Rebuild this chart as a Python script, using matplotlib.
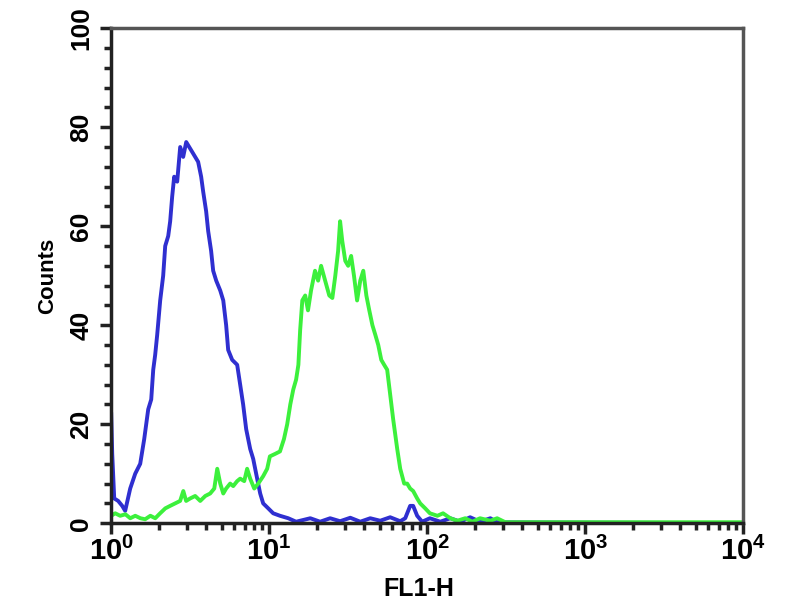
import matplotlib.pyplot as plt
from matplotlib.ticker import LogLocator, MultipleLocator, NullFormatter

# Histograma azul (control) - FL1-H vs Counts
blue_x = [1.0, 1.015, 1.045, 1.107, 1.174, 1.226, 1.319, 1.419, 1.526, 1.618,
          1.715, 1.792, 1.845, 1.898, 1.954, 2.042, 2.133, 2.197, 2.295, 2.362,
          2.432, 2.504, 2.616, 2.733, 2.855, 2.984, 3.117, 3.256, 3.40, 3.55,
          3.71, 3.82, 3.99, 4.11, 4.29, 4.42, 4.62, 4.90, 5.12, 5.34,
          5.50, 5.83, 6.27, 6.55, 6.84, 7.15, 7.58, 7.92, 8.39, 8.77,
          9.16, 9.86, 10.6, 11.7, 13.2, 14.8, 15.7, 18.2, 21.0, 24.3,
          28.1, 32.6, 37.7, 43.6, 50.4, 58.3, 67.5, 72.6, 78.0, 81.5,
          86.4, 92.9, 104, 121, 140, 162, 187, 216, 251, 277, 10000]
blue_y = [22, 14, 5, 4.5, 3.5, 2.5, 7, 10, 12, 17,
          23, 25, 31, 34, 38, 45, 50, 56, 58, 61,
          66, 70, 69, 76, 74, 77, 76, 75, 74, 73,
          70, 67, 63, 59, 55, 51, 49, 47, 45, 40,
          35, 33, 32, 28, 24, 19, 15, 13, 9, 6,
          4, 3, 2, 1.5, 1, 0.3, 0.5, 1, 0.3, 1,
          0.4, 1.1, 0.3, 1, 0.5, 1.2, 0.4, 1, 3.5, 3.5,
          1.5, 0.3, 1, 0.3, 1, 0.3, 1.2, 0.3, 1, 0.2, 0]

# Histograma verde (muestra)
green_x = [1.0, 1.06, 1.14, 1.23, 1.32, 1.42, 1.53, 1.64, 1.77, 1.90,
           2.04, 2.20, 2.36, 2.54, 2.73, 2.86, 2.98, 3.16, 3.40, 3.66,
           3.94, 4.23, 4.49, 4.69, 4.90, 5.12, 5.34, 5.66, 5.92, 6.27,
           6.55, 6.95, 7.25, 7.58, 8.04, 8.52, 9.16, 9.71, 10.1, 10.9,
           11.7, 12.4, 13.0, 13.6, 14.2, 14.8, 15.3, 15.7, 16.2, 16.9,
           17.6, 18.4, 19.5, 20.4, 21.3, 22.6, 24.0, 25.1, 26.2, 27.3,
           28.1, 29.0, 30.3, 31.6, 33.0, 34.4, 36.0, 37.7, 39.4, 41.2,
           43.0, 45.0, 47.0, 49.0, 51.2, 53.4, 55.8, 58.3, 60.9, 64.6,
           67.5, 71.5, 74.7, 78.0, 81.5, 86.4, 90.3, 97.1, 104, 116,
           126, 140, 155, 174, 193, 216, 251, 277, 312, 10000]
green_y = [1.5, 2, 1.5, 1.8, 1, 1.5, 1, 0.8, 1.5, 1,
           2, 3, 3.5, 4, 4.5, 6.5, 4.5, 5, 5.5, 4.5,
           5.5, 6, 7, 11, 8, 6, 7, 8, 7.5, 8.5,
           9, 8.5, 11, 9, 7, 8, 9.5, 11, 13.5, 14,
           14.5, 17, 20, 24, 27, 29, 32, 39, 45, 46,
           43, 47, 51, 49, 52, 49, 46, 45.5, 50, 55,
           61, 57, 53, 52, 54, 50, 45, 49, 51, 46,
           43, 40, 38, 36, 33, 32, 31, 26, 21, 15,
           11, 8, 8, 7, 6.5, 5, 4, 3, 2, 1.5,
           2, 1, 0.5, 1, 0.3, 1, 0.5, 1, 0.2, 0.2]

x_ticks = [1, 10, 100, 1000, 10000]
x_ticklabels = [r'$\mathregular{10^{0}}$', r'$\mathregular{10^{1}}$',
                r'$\mathregular{10^{2}}$', r'$\mathregular{10^{3}}$',
                r'$\mathregular{10^{4}}$']

plt.rcParams['font.family'] = ['Liberation Sans', 'DejaVu Sans']

fig = plt.figure(figsize=(8, 6), dpi=100)
ax = fig.add_axes([0.139, 0.128, 0.79, 0.825])

ax.plot(blue_x, blue_y, color="#2f2fd0", lw=2.8)
ax.plot(green_x, green_y, color="#3cf03c", lw=2.8)

ax.set_xscale("log")
ax.set_xlim(1, 10000)
ax.set_ylim(0, 100)

ax.xaxis.set_minor_locator(LogLocator(base=10, subs=range(2, 10), numticks=10))
ax.xaxis.set_minor_formatter(NullFormatter())
ax.set_xticks(x_ticks)
ax.set_xticklabels(x_ticklabels, fontsize=21, fontweight="bold")

ax.yaxis.set_major_locator(MultipleLocator(20))
ax.yaxis.set_minor_locator(MultipleLocator(4))
for lbl in ax.get_yticklabels():
    lbl.set_va("center")
    lbl.set_fontsize(19)
    lbl.set_fontweight("bold")

ax.tick_params(axis="both", which="major", length=8, width=2.5, color="#222222", pad=5)
ax.tick_params(axis="both", which="minor", length=5, width=2.5, color="#222222")
ax.tick_params(axis="y", labelrotation=90)
ax.tick_params(axis="x", pad=2)

for s in ax.spines.values():
    s.set_linewidth(2.5)
    s.set_color("#555555")
ax.spines["left"].set_color("#222222")
ax.spines["bottom"].set_color("#222222")

ax.set_ylabel("Counts", fontsize=16, fontweight="bold", labelpad=8)
ax.set_xlabel("FL1-H", fontsize=18, fontweight="bold")
ax.xaxis.set_label_coords(0.487, -0.108)

plt.savefig("out.png", dpi=100)
